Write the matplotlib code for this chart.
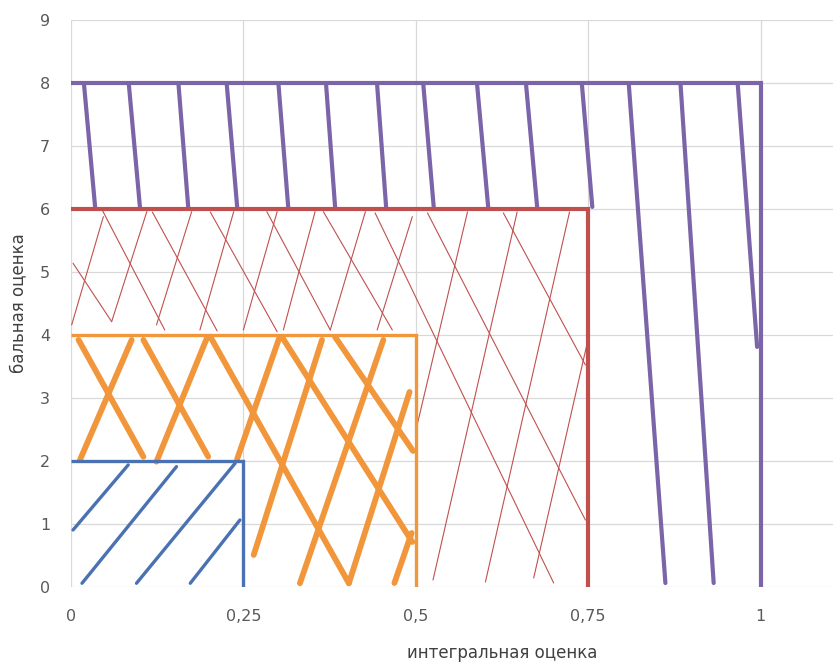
import matplotlib
matplotlib.use("Agg")
import matplotlib.pyplot as plt

plt.rcParams['font.family'] = ['DejaVu Sans']

# outlines of the four areas: (x, y) corner points
blue_edge = [(0, 2), (0.25, 2), (0.25, 0)]
orange_edge = [(0, 4), (0.5, 4), (0.5, 0)]
red_edge = [(0, 6), (0.75, 6), (0.75, 0)]
purple_edge = [(0, 8), (1, 8), (1, 0)]

# hatch strokes: (x0, y0, x1, y1)
blue_hatch = [
    (0.003, 0.905, 0.083, 1.937),
    (0.016, 0.059, 0.153, 1.910),
    (0.095, 0.059, 0.238, 1.963),
    (0.173, 0.059, 0.245, 1.063),
]

orange_hatch = [
    (0.011, 3.921, 0.105, 2.068),
    (0.105, 3.921, 0.199, 2.068),
    (0.202, 3.973, 0.403, 0.059),
    (0.306, 3.968, 0.495, 0.714),
    (0.383, 3.968, 0.496, 2.159),
    (0.013, 2.016, 0.088, 3.921),
    (0.124, 1.989, 0.197, 3.948),
    (0.241, 2.032, 0.302, 3.952),
    (0.265, 0.508, 0.364, 3.921),
    (0.332, 0.059, 0.453, 3.921),
    (0.403, 0.059, 0.491, 3.095),
    (0.469, 0.063, 0.494, 0.857),
]

red_hatch = [
    (0.001, 4.159, 0.047, 5.878),
    (0.059, 4.211, 0.110, 5.957),
    (0.124, 4.159, 0.175, 5.957),
    (0.187, 4.079, 0.236, 5.957),
    (0.250, 4.079, 0.299, 5.957),
    (0.308, 4.079, 0.354, 5.957),
    (0.376, 4.079, 0.427, 5.957),
    (0.444, 4.079, 0.495, 5.878),
    (0.501, 2.524, 0.575, 5.952),
    (0.525, 0.111, 0.647, 5.952),
    (0.601, 0.079, 0.723, 5.952),
    (0.671, 0.143, 0.748, 3.841),
    (0.003, 5.138, 0.059, 4.211),
    (0.046, 5.968, 0.136, 4.079),
    (0.118, 5.952, 0.212, 4.063),
    (0.202, 5.952, 0.299, 4.052),
    (0.284, 5.957, 0.376, 4.079),
    (0.366, 5.957, 0.466, 4.079),
    (0.441, 5.937, 0.700, 0.063),
    (0.517, 5.937, 0.746, 1.063),
    (0.627, 5.937, 0.746, 3.524),
]

purple_hatch = [
    (0.019, 7.968, 0.035, 6.032),
    (0.084, 7.968, 0.100, 6.032),
    (0.156, 7.968, 0.170, 6.032),
    (0.226, 7.968, 0.241, 6.032),
    (0.301, 7.968, 0.315, 6.032),
    (0.370, 7.968, 0.383, 6.032),
    (0.444, 7.968, 0.457, 6.032),
    (0.511, 7.968, 0.526, 6.032),
    (0.589, 7.968, 0.605, 6.032),
    (0.660, 7.968, 0.676, 6.032),
    (0.741, 7.968, 0.756, 6.032),
    (0.809, 7.968, 0.862, 0.063),
    (0.884, 7.968, 0.932, 0.063),
    (0.967, 7.968, 0.995, 3.810),
]

x_ticks = [0, 0.25, 0.5, 0.75, 1]
x_labels = ['0', '0,25', '0,5', '0,75', '1']
y_ticks = list(range(10))

# (edge, hatch, colour, edge width, hatch width)
areas = [
    (purple_edge, purple_hatch, '#7b64a8', 3.0, 3.0),
    (red_edge, red_hatch, '#c0504d', 3.0, 0.8),
    (orange_edge, orange_hatch, '#f2963c', 2.4, 4.2),
    (blue_edge, blue_hatch, '#4a72b2', 2.4, 2.4),
]

fig = plt.figure(figsize=(8.33, 6.64), dpi=100)
# the plot runs on past the right edge of the picture (up to x = 1.25)
ax = fig.add_axes([0.0852, 0.116, 1.0348, 0.854])

for edge, hatch, color, ew, hw in areas:
    for x0, y0, x1, y1 in hatch:
        ax.plot([x0, x1], [y0, y1], color=color, lw=hw, solid_capstyle='round')
    ax.plot([p[0] for p in edge], [p[1] for p in edge], color=color, lw=ew,
            solid_capstyle='butt', solid_joinstyle='miter')

ax.set_xlim(0, 1.25)
ax.set_ylim(0, 9)
ax.set_xticks(x_ticks)
ax.set_xticklabels(x_labels)
ax.set_yticks(y_ticks)
ax.grid(True, color='#d9d9d9', lw=0.9)
ax.set_axisbelow(True)
for s in ax.spines.values():
    s.set_visible(False)
ax.tick_params(length=0, labelsize=11.5, colors='#595959')
ax.tick_params(axis='y', pad=15)
ax.tick_params(axis='x', pad=16)
ax.set_xlabel('интегральная оценка', fontsize=12, color='#404040')
ax.set_ylabel('бальная оценка', fontsize=12, color='#404040')
ax.xaxis.set_label_coords(0.5, -0.100)
ax.yaxis.set_label_coords(-0.051, 0.5)

fig.savefig('out.png', dpi=100)
